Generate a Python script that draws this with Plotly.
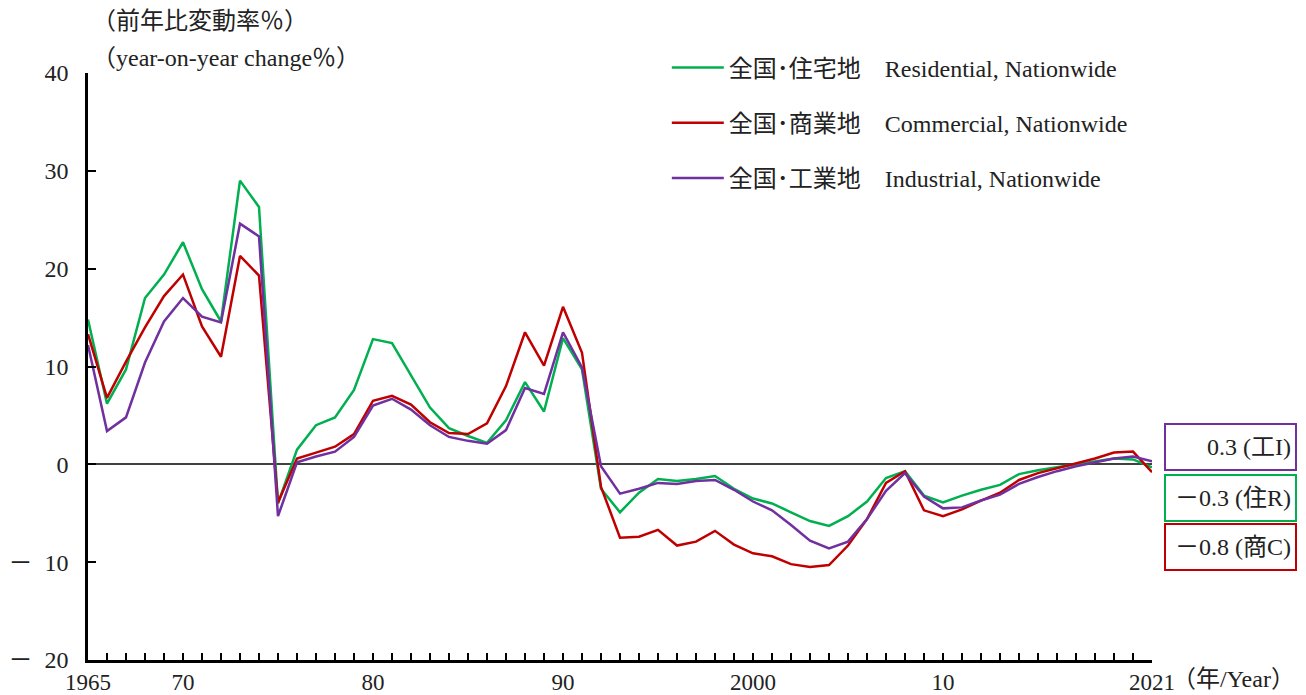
import plotly.graph_objects as go

years = list(range(1965, 2022))

residential = [14.8, 6.2, 9.7, 17.0, 19.4, 22.7, 17.9, 14.6, 29.0, 26.3,
               -4.0, 1.5, 4.0, 4.8, 7.6, 12.8, 12.4, 9.1, 5.8, 3.7,
               2.9, 2.2, 4.5, 8.4, 5.4, 12.9, 9.7, -2.5, -4.9, -2.9,
               -1.5, -1.7, -1.5, -1.2, -2.5, -3.5, -4.0, -4.9, -5.8, -6.3,
               -5.3, -3.8, -1.4, -0.7, -3.2, -3.9, -3.2, -2.6, -2.1, -1.0,
               -0.6, -0.3, 0.0, 0.3, 0.6, 0.5, -0.3]
commercial = [13.3, 6.8, 10.5, 14.0, 17.2, 19.4, 14.1, 11.0, 21.3, 19.3,
              -3.9, 0.6, 1.2, 1.8, 3.1, 6.5, 7.0, 6.1, 4.3, 3.2,
              3.1, 4.2, 8.0, 13.5, 10.1, 16.1, 11.4, -2.3, -7.5, -7.4,
              -6.7, -8.3, -7.9, -6.8, -8.2, -9.1, -9.4, -10.2, -10.5, -10.3,
              -8.3, -5.6, -1.9, -0.7, -4.7, -5.3, -4.6, -3.7, -2.9, -1.6,
              -0.9, -0.4, 0.1, 0.6, 1.2, 1.3, -0.8]
industrial = [12.2, 3.4, 4.8, 10.4, 14.6, 17.0, 15.1, 14.5, 24.6, 23.3,
              -5.3, 0.2, 0.8, 1.3, 2.8, 6.0, 6.7, 5.6, 4.0, 2.8,
              2.4, 2.1, 3.5, 7.8, 7.2, 13.5, 9.9, -0.2, -3.0, -2.5,
              -1.9, -2.0, -1.7, -1.6, -2.6, -3.8, -4.7, -6.2, -7.8, -8.6,
              -7.9, -5.6, -2.7, -0.9, -3.3, -4.5, -4.4, -3.7, -3.1, -2.0,
              -1.3, -0.7, -0.2, 0.2, 0.6, 0.8, 0.3]

names = ["全国･住宅地　Residential, Nationwide",
         "全国･商業地　Commercial, Nationwide",
         "全国･工業地　Industrial, Nationwide"]
colors = ["#00B050", "#C00000", "#7030A0"]

x_labels = {1965: "1965", 1970: "70", 1980: "80", 1990: "90", 2000: "2000", 2010: "10", 2021: "2021"}
y_vals = [-20, -10, 0, 10, 20, 30, 40]
y_text = ["－\u200220", "－\u200210", "0", "10", "20", "30", "40"]

end_labels = ["0.3 (工I)", "－0.3 (住R)", "－0.8 (商C)"]
end_colors = ["#7030A0", "#00B050", "#C00000"]
end_pos = [1.8, -3.4, -8.5]

FONT = "Liberation Serif, Noto Sans CJK JP, serif"

fig = go.Figure()
for i, ys in enumerate([residential, commercial, industrial]):
    fig.add_trace(go.Scatter(x=years, y=ys, mode="lines", name=names[i],
                             legendgroup=str(i),
                             line=dict(color=colors[i], width=2.5)))

for txt, col, yy in zip(end_labels, end_colors, end_pos):
    fig.add_annotation(x=2021, y=yy, xref="x", yref="y", text=txt, showarrow=False,
                       xanchor="left", xshift=12, width=121, height=36, align="right",
                       bordercolor=col, borderwidth=2, borderpad=4,
                       font=dict(size=24, color="#222"))

fig.add_annotation(x=0, y=1, xref="paper", yref="paper", text="（前年比変動率％）",
                   showarrow=False, xanchor="left", yanchor="middle", xshift=2, yshift=52,
                   font=dict(size=24, color="#222"))
fig.add_annotation(x=0, y=1, xref="paper", yref="paper", text="（year-on-year change％）",
                   showarrow=False, xanchor="left", yanchor="middle", xshift=2, yshift=15,
                   font=dict(size=24, color="#222"))
fig.add_annotation(x=2021, y=0, xref="x", yref="paper", text="（年/Year）",
                   showarrow=False, xanchor="left", yanchor="top", xshift=18, yshift=-4,
                   font=dict(size=24, color="#222"))

fig.update_xaxes(range=[1965, 2021], tickvals=years,
                 ticktext=[x_labels.get(y, "") for y in years],
                 ticks="inside", ticklen=7, tickwidth=1.5, tickcolor="black",
                 showline=True, linecolor="black", linewidth=2.5,
                 showgrid=False, zeroline=False, automargin=False,
                 tickfont=dict(size=23, color="#222"))
fig.update_yaxes(range=[-20, 40], tickvals=y_vals, ticktext=y_text,
                 ticks="inside", ticklen=8, tickwidth=2, tickcolor="black",
                 showline=True, linecolor="black", linewidth=2.5,
                 showgrid=False, zeroline=True, zerolinecolor="#404040", zerolinewidth=1.5,
                 ticklabelstandoff=12, automargin=False,
                 tickfont=dict(size=24, color="#222"))

# page body has an 8px margin, so the figure is a little smaller than the window
fig.update_layout(
    width=1298, height=687,
    margin=dict(l=80, r=154, t=65, b=35, autoexpand=False),
    plot_bgcolor="white", paper_bgcolor="white",
    font=dict(family=FONT, color="#222"),
    legend=dict(x=0.544, y=1.047, xanchor="left", yanchor="top",
                traceorder="grouped", tracegroupgap=21, itemwidth=52,
                font=dict(size=24, color="#222"), bgcolor="rgba(0,0,0,0)"),
)

fig.write_html("out.html")
